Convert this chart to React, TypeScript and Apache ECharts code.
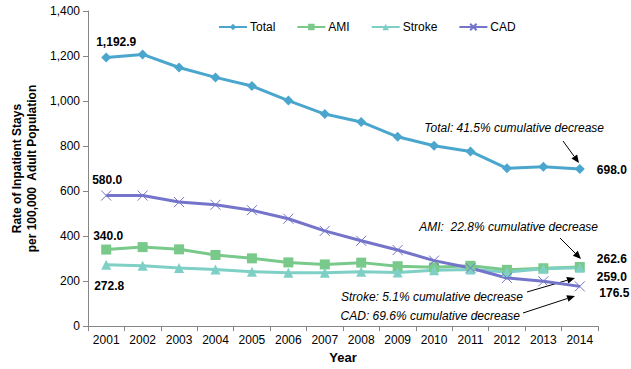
import React, { useEffect, useRef } from "react";
import * as echarts from "echarts";

const years = ["2001","2002","2003","2004","2005","2006","2007","2008","2009","2010","2011","2012","2013","2014"];
const totalValues = [1192.9, 1207, 1149, 1105, 1067, 1002, 942, 907, 841, 801, 776, 701, 708, 698.0];
const amiValues = [340.0, 351, 341, 316, 301, 283, 274, 282, 266, 261, 268, 250, 257, 262.6];
const strokeValues = [272.8, 268, 258, 251, 242, 237, 237, 241, 238, 248, 251, 240, 255, 259.0];
const cadValues = [580.0, 580, 551, 539, 515, 477, 423, 379, 338, 291, 258, 214, 199, 176.5];
const yTicks = [0, 200, 400, 600, 800, 1000, 1200, 1400];

const FONT = "'Liberation Sans', Arial, sans-serif";

const fmt = (v: number) =>
  v.toLocaleString("en-US", { minimumFractionDigits: 1, maximumFractionDigits: 1 });

function arrow(x1: number, y1: number, x2: number, y2: number) {
  const ang = Math.atan2(y2 - y1, x2 - x1);
  const len = 8, w = 3.5;
  const bx = x2 - len * Math.cos(ang), by = y2 - len * Math.sin(ang);
  const px = -Math.sin(ang) * w, py = Math.cos(ang) * w;
  return [
    { type: "line", shape: { x1, y1, x2: bx, y2: by }, style: { stroke: "#000", lineWidth: 1 } },
    { type: "polygon", shape: { points: [[x2, y2], [bx + px, by + py], [bx - px, by - py]] }, style: { fill: "#000" } },
  ];
}

function annText(x: number, y: number, text: string, align: string) {
  return {
    type: "text", x, y,
    style: { text, fontFamily: FONT, fontSize: 12, fontStyle: "italic", fill: "#000", align, verticalAlign: "middle" },
  };
}

function withLabels(values: number[], first: any, last: any) {
  return values.map((v, i) => {
    if (i === 0 && first) return { value: v, label: { show: true, ...first } };
    if (i === values.length - 1 && last) return { value: v, label: { show: true, ...last } };
    return v;
  });
}

const labelBase = {
  fontFamily: FONT, fontSize: 12, fontWeight: "bold", color: "#000",
  formatter: (p: any) => fmt(p.value),
};

export default function App() {
  const ref = useRef<HTMLDivElement>(null);
  useEffect(() => {
    if (!ref.current) return;
    const chart = echarts.init(ref.current, null, { renderer: "svg" });
    const total = "#4BA6CE";
    const ami = "#78C98A";
    const stroke = "#7ED0C6";
    const cad = "#7474CA";
    chart.setOption({
      animation: false,
      backgroundColor: "#fff",
      grid: { left: 88, right: 33, top: 11, bottom: 40.5, containLabel: false },
      legend: {
        left: 213, top: 16, itemWidth: 28, itemHeight: 8, itemGap: 21,
        textStyle: { fontFamily: FONT, fontSize: 12, color: "#000", padding: [0, 0, 0, -2] },
        data: ["Total", "AMI", "Stroke", "CAD"],
      },
      xAxis: {
        type: "category", data: years, boundaryGap: true,
        name: "Year", nameLocation: "middle", nameGap: 24,
        nameTextStyle: { fontFamily: FONT, fontSize: 13, fontWeight: "bold", color: "#000" },
        axisLine: { lineStyle: { color: "#868686" } },
        axisTick: { show: true, alignWithLabel: false, length: 5, lineStyle: { color: "#868686" } },
        axisLabel: { fontFamily: FONT, fontSize: 12, color: "#000", margin: 8 },
      },
      yAxis: {
        type: "value", min: 0, max: 1400, interval: 200,
        name: "Rate of Inpatient Stays\nper 100,000  Adult Population",
        nameLocation: "middle", nameGap: 45, nameRotate: 90,
        nameTextStyle: { fontFamily: FONT, fontSize: 12, fontWeight: "bold", color: "#000", lineHeight: 15 },
        axisLine: { show: true, lineStyle: { color: "#868686" } },
        axisTick: { show: true, length: 5, lineStyle: { color: "#868686" } },
        splitLine: { show: false },
        axisLabel: {
          fontFamily: FONT, fontSize: 12, color: "#000", margin: 8,
          formatter: (v: number) => (yTicks.includes(v) ? v.toLocaleString("en-US") : ""),
        },
      },
      series: [
        {
          name: "Total", type: "line", color: total,
          data: withLabels(totalValues,
            { ...labelBase, position: "top", offset: [10, 0] },
            { ...labelBase, position: "right", distance: 12, offset: [0, 1] }),
          symbol: "diamond", symbolSize: 10,
          lineStyle: { width: 3, color: total }, itemStyle: { color: total },
        },
        {
          name: "AMI", type: "line", color: ami,
          data: withLabels(amiValues,
            { ...labelBase, position: "top", offset: [2, 2] },
            { ...labelBase, position: "right", distance: 12, offset: [0, -8], lineHeight: 12 }),
          symbol: "rect", symbolSize: 10,
          lineStyle: { width: 3, color: ami }, itemStyle: { color: ami },
        },
        {
          name: "Stroke", type: "line", color: stroke,
          data: withLabels(strokeValues,
            { ...labelBase, position: "bottom", offset: [3, 5] },
            { ...labelBase, position: "right", distance: 12, offset: [0, 9], lineHeight: 12 }),
          symbol: "triangle", symbolSize: 10,
          lineStyle: { width: 3, color: stroke }, itemStyle: { color: stroke },
        },
        {
          name: "CAD", type: "line", color: cad,
          data: withLabels(cadValues,
            { ...labelBase, position: "top", offset: [1, 3] },
            { ...labelBase, position: "right", distance: 12, offset: [0, 7] }),
          symbol: "path://M0,0L10,10M10,0L0,10", symbolSize: 10,
          lineStyle: { width: 3, color: cad },
          itemStyle: { color: "none", borderColor: cad, borderWidth: 1 },
        },
      ],
      graphic: [
        annText(604, 128, "Total: 41.5% cumulative decrease", "right"),
        ...arrow(563, 141, 579, 163),
        annText(598, 227, "AMI:  22.8% cumulative decrease", "right"),
        ...arrow(560, 238, 581, 259),
        annText(523, 297, "Stroke: 5.1% cumulative decrease", "right"),
        ...arrow(527, 292, 575, 278),
        annText(520, 316, "CAD: 69.6% cumulative decrease", "right"),
        ...arrow(523, 313, 575, 296),
      ],
    });
    return () => chart.dispose();
  }, []);
  return <div ref={ref} style={{ width: 631, height: 369, position: "absolute", left: 0, top: 0 }} />;
}
